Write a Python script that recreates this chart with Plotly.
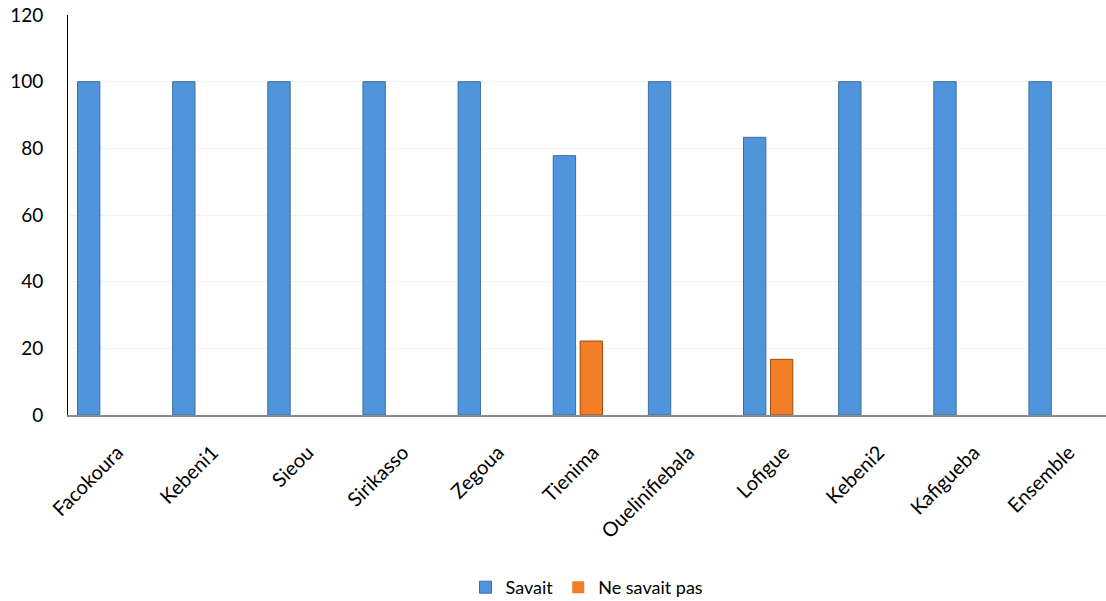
import plotly.graph_objects as go

categories = ["Facokoura", "Kebeni1", "Sieou", "Sirikasso", "Zegoua", "Tienima",
              "Ouelinifiebala", "Lofigue", "Kebeni2", "Kafigueba", "Ensemble"]
savait = [100, 100, 100, 100, 100, 77.8, 100, 83.3, 100, 100, 100]
ne_savait_pas = [0, 0, 0, 0, 0, 22.2, 0, 16.7, 0, 0, 0]
y_ticks = [0, 20, 40, 60, 80, 100, 120]

FONT = "Lato, 'Open Sans', sans-serif"


def outline_widths(values):
    return [1 if v else 0 for v in values]


fig = go.Figure()
fig.add_trace(go.Bar(
    x=categories, y=savait, name="Savait",
    width=0.235, offset=-0.40,
    marker=dict(color="#5095db",
                line=dict(color="#3a6ea5", width=outline_widths(savait))),
))
fig.add_trace(go.Bar(
    x=categories, y=ne_savait_pas, name="Ne savait pas",
    width=0.235, offset=-0.117,
    marker=dict(color="#f27d24",
                line=dict(color="#9c4c12", width=outline_widths(ne_savait_pas))),
))

fig.update_layout(
    width=1106, height=601,
    margin=dict(l=68, r=0, t=15, b=186, autoexpand=False),
    paper_bgcolor="white", plot_bgcolor="white",
    font=dict(family=FONT, size=19, color="#000000"),
    barmode="overlay",
    showlegend=True,
    legend=dict(orientation="h", x=0.5, xanchor="center", y=-0.385, yanchor="top",
                font=dict(size=18), itemwidth=30, traceorder="normal"),
    xaxis=dict(
        type="category", range=[-0.5, 10.41], automargin=False,
        showline=True, linecolor="#8c8c8c", linewidth=2,
        showgrid=False, tickangle=-45, ticks="",
        tickfont=dict(size=20), ticklabelshift=2, ticklabelstandoff=16,
    ),
    yaxis=dict(
        range=[0, 120], tickvals=y_ticks, automargin=False,
        showline=True, linecolor="#000000", linewidth=1,
        showgrid=True, gridcolor="#f3f3f3", gridwidth=1,
        zeroline=False, ticks="", ticklabelstandoff=20,
        tickfont=dict(size=19),
    ),
)

fig.write_html("out.html")
